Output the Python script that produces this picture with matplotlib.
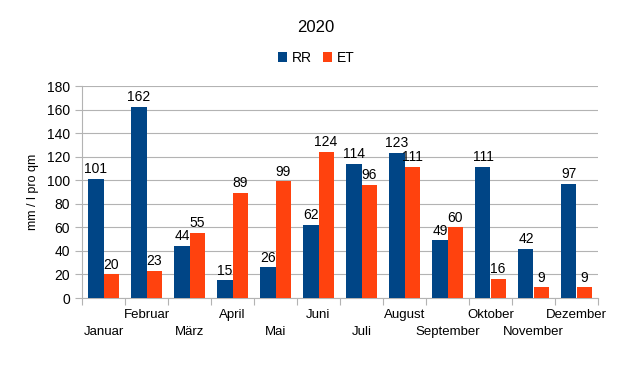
import matplotlib
matplotlib.use("Agg")
import matplotlib.pyplot as plt
import numpy as np

plt.rcParams['font.family'] = ['Liberation Sans', 'DejaVu Sans']

months = ["Januar", "Februar", "März", "April", "Mai", "Juni", "Juli",
          "August", "September", "Oktober", "November", "Dezember"]
rr = [101, 162, 44, 15, 26, 62, 114, 123, 49, 111, 42, 97]
et = [20, 23, 55, 89, 99, 124, 96, 111, 60, 16, 9, 9]

c_rr = "#004586"
c_et = "#ff420e"
grid_c = "#b3b3b3"

fig = plt.figure(figsize=(6.32, 3.67), dpi=100)
ax = fig.add_axes([82/632, 1-298/367, (598-82)/632, (298-86)/367])

x = np.arange(len(months))
w = 0.35
b1 = ax.bar(x - w/2, rr, w, color=c_rr, label="RR", zorder=3)
b2 = ax.bar(x + w/2, et, w, color=c_et, label="ET", zorder=3)
for bars in (b1, b2):
    ax.bar_label(bars, padding=2, fontsize=10)

ax.set_xlim(-0.5, len(months) - 0.5)
ax.set_ylim(0, 180)
ax.set_yticks(np.arange(0, 181, 20))
ax.yaxis.grid(True, color=grid_c, linewidth=0.8, zorder=0)
ax.set_axisbelow(True)

ax.set_xticks(np.arange(-0.5, len(months), 1))
ax.set_xticklabels([])
ax.set_xticks(x, minor=True)
ax.set_xticklabels(months, minor=True, fontsize=9.5)
ax.tick_params(axis='x', which='minor', length=0, pad=8)
for i, t in enumerate(ax.xaxis.get_minor_ticks()):
    t.set_pad(20 if i % 2 == 0 else 8)
ax.tick_params(axis='x', which='major', length=5, color=grid_c)
ax.tick_params(axis='y', length=5, color=grid_c, labelsize=10)

for s in ["top", "right"]:
    ax.spines[s].set_visible(False)
for s in ["left", "bottom"]:
    ax.spines[s].set_color(grid_c)

ax.set_ylabel("mm / l pro qm", fontsize=9, labelpad=6)
fig.text(0.5, 1-27/367, "2020", ha="center", va="center", fontsize=12)
fig.legend(handles=[b1, b2], labels=["RR", "ET"], loc="center",
           bbox_to_anchor=(0.5, 1-58/367), ncol=2, frameon=False,
           fontsize=10, handlelength=0.7, handleheight=0.7,
           handletextpad=0.3, columnspacing=0.8)

fig.savefig("out.png", dpi=100)
